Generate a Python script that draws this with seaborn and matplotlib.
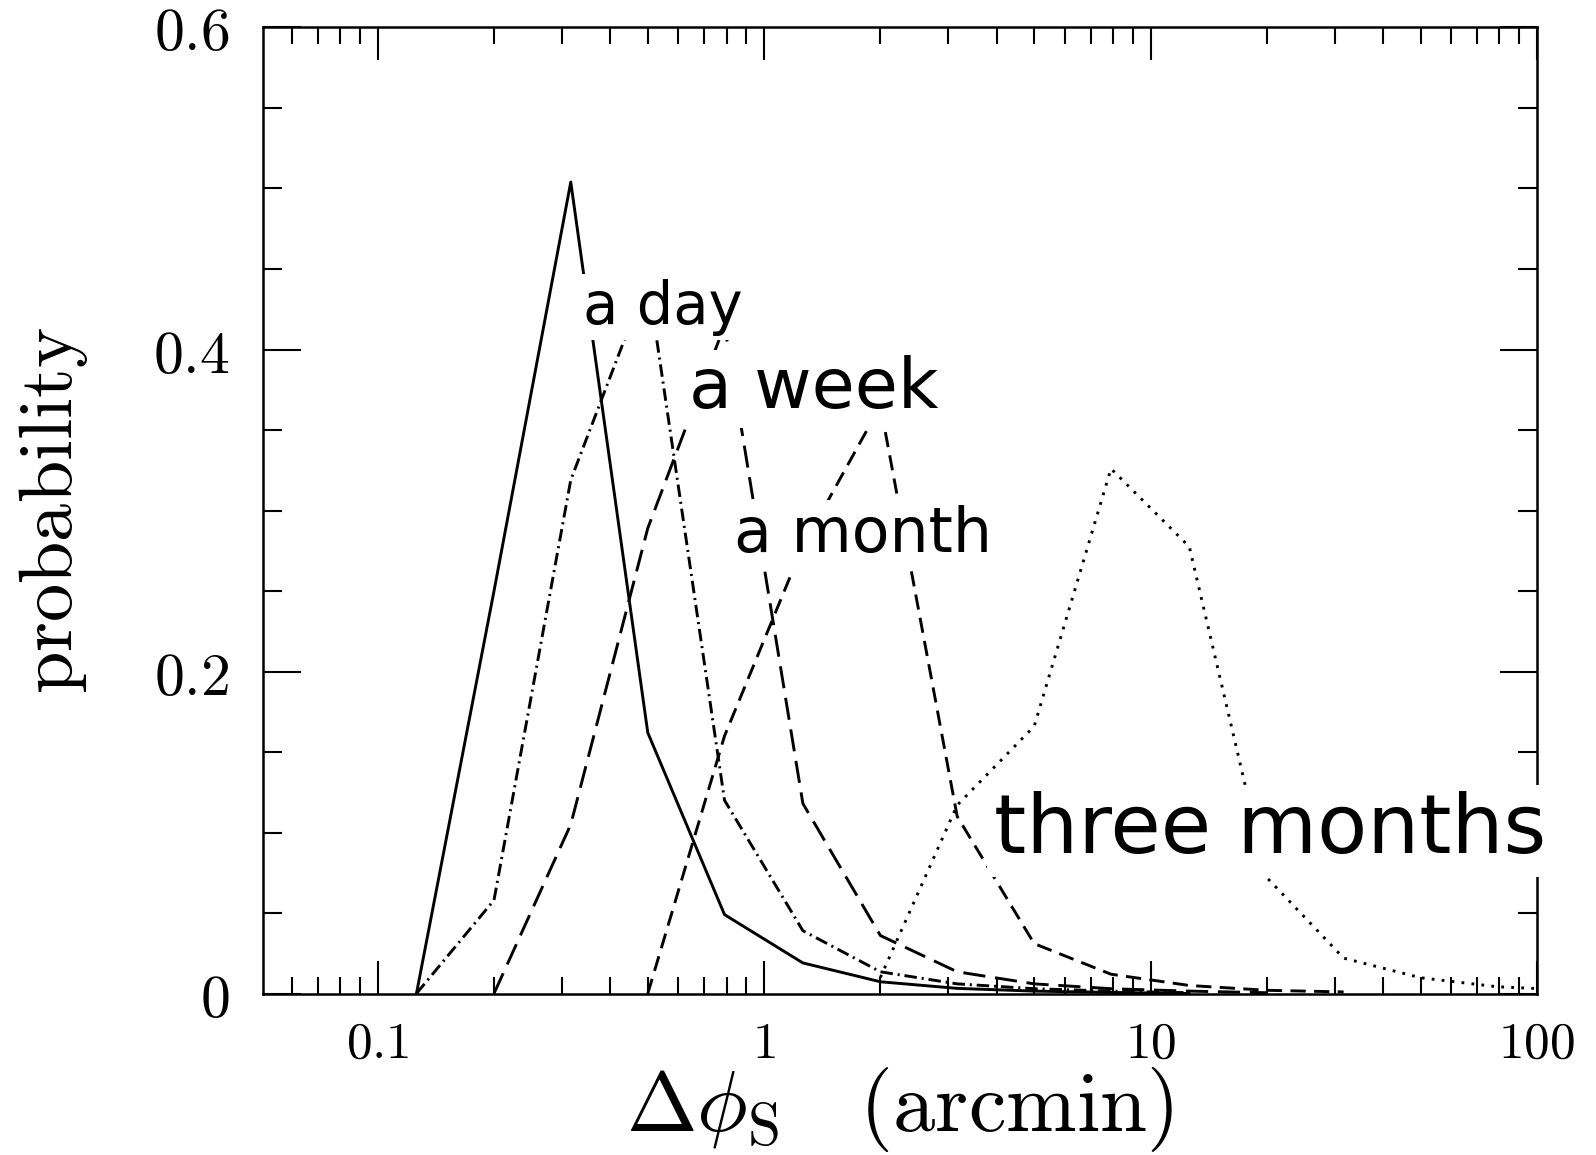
import numpy as np
import pandas as pd
import matplotlib
matplotlib.use("Agg")
import matplotlib.pyplot as plt
import matplotlib.ticker as mticker
import seaborn as sns

# separation grid (arcmin) and probabilities
dphi = [0.126, 0.2, 0.316, 0.5, 0.79, 1.26, 2.0, 3.16, 5.0, 7.9, 12.6, 20.0, 31.6, 50.0, 79.0, 126.0]

p_solid = [0.0, 0.25, 0.504, 0.162, 0.049, 0.019, 0.0073, 0.0032, 0.0015, 0.0007, 0.0]
p_day = [0.0, 0.058, 0.319, 0.444, 0.120, 0.039, 0.0135, 0.006, 0.003, 0.0015, 0.0005]
p_week = [0.0, 0.105, 0.289, 0.415, 0.118, 0.036, 0.0135, 0.006, 0.003, 0.0015, 0.0005]
p_month = [0.0, 0.160, 0.278, 0.365, 0.110, 0.031, 0.012, 0.005, 0.002, 0.001]
p_3months = [0.010, 0.117, 0.166, 0.326, 0.2775, 0.072, 0.022, 0.0098, 0.0042, 0.002]

# first grid index where each curve starts
start_solid, start_day, start_week, start_month, start_3months = 0, 0, 1, 3, 6

ytick_vals = [0, 0.2, 0.4, 0.6]
ytick_text = [r"$\mathrm{0}$", r"$\mathrm{0.2}$", r"$\mathrm{0.4}$", r"$\mathrm{0.6}$"]
xtick_vals = [0.1, 1, 10, 100]
xtick_text = [r"$\mathrm{0.1}$", r"$\mathrm{1}$", r"$\mathrm{10}$", r"$\mathrm{100}$"]

labels = ["a day", "a week", "a month", "three months"]
label_x = [0.339, 0.64, 0.837, 3.93]
label_y = [0.416, 0.3635, 0.2745, 0.087]
label_size = [41.5, 50.5, 44.5, 59]

sns.set_theme(style="ticks")
plt.rcParams.update({
    "mathtext.fontset": "cm",
    "font.family": ["DejaVu Sans"],
    "lines.scale_dashes": False,
    "axes.edgecolor": "black",
    "axes.labelcolor": "black",
    "text.color": "black",
    "xtick.color": "black",
    "ytick.color": "black",
})

fig = plt.figure(figsize=(15.96, 11.55), dpi=100)
ax = fig.add_axes([0.1648, 0.1398, 0.7982, 0.8364])
ax.set_xscale("log")

series = [
    (start_solid, p_solid, "-"),
    (start_day, p_day, (0, (9, 3.5, 1.5, 3.5))),
    (start_week, p_week, (0, (16, 7))),
    (start_month, p_month, (0, (11, 6))),
    (start_3months, p_3months, (0, (2.0, 5.2))),
]
for s, p, ls in series:
    df = pd.DataFrame({"dphi": dphi[s:s + len(p)], "prob": p})
    sns.lineplot(data=df, x="dphi", y="prob", ax=ax, color="black",
                 linestyle=ls, linewidth=2.1, sort=False, errorbar=None)

for txt, x, y, fs in zip(labels, label_x, label_y, label_size):
    ax.text(x, y, txt, fontsize=fs, family="DejaVu Sans", ha="left", va="baseline",
            color="black", zorder=5,
            bbox=dict(boxstyle="square,pad=0.08", fc="white", ec="none"))

ax.set_ylim(0, 0.6)
ax.set_yticks(ytick_vals, labels=ytick_text)
ax.yaxis.set_minor_locator(mticker.MultipleLocator(0.05))
ax.set_xticks(xtick_vals, labels=xtick_text)
ax.xaxis.set_minor_locator(mticker.LogLocator(base=10, subs=np.arange(2, 10)))
ax.xaxis.set_minor_formatter(mticker.NullFormatter())
ax.set_xlim(0.0505, 100)

ax.tick_params(which="both", direction="in", top=True, right=True, width=1.5)
ax.tick_params(axis="y", which="major", length=27, labelsize=43, pad=24)
ax.tick_params(axis="y", which="minor", length=14)
ax.tick_params(axis="x", which="major", length=24, labelsize=37, pad=18)
ax.tick_params(axis="x", which="minor", length=12)
for sp in ax.spines.values():
    sp.set_linewidth(1.8)

ax.set_ylabel(r"$\mathrm{probability}$", fontsize=55)
ax.yaxis.set_label_coords(-0.136, 0.5)
ax.set_xlabel(r"$\Delta\phi_{\rm S}\ \ \ \mathrm{(arcmin)}$", fontsize=61)
ax.xaxis.set_label_coords(0.5, -0.074)

fig.savefig("out.png", dpi=100)
